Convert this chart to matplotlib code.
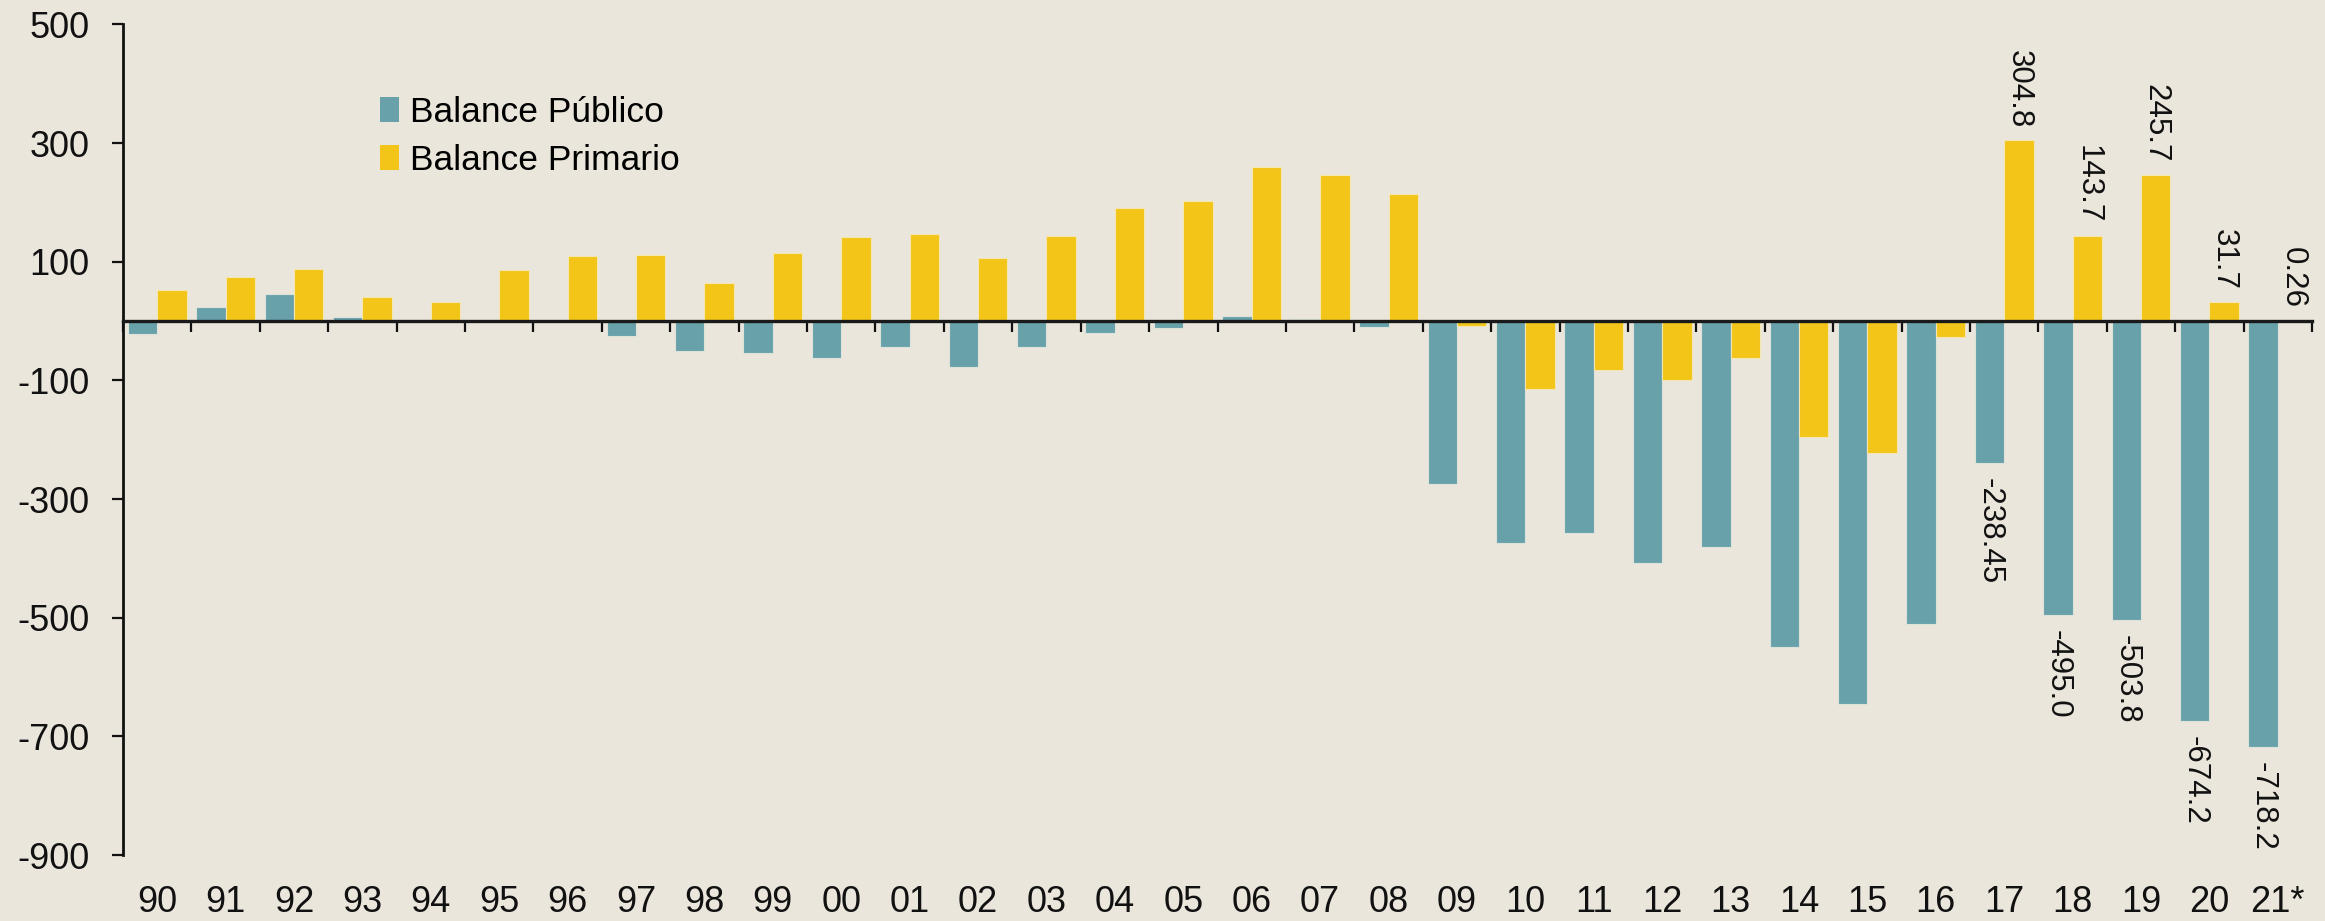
import matplotlib
matplotlib.use('Agg')
import matplotlib.pyplot as plt
import numpy as np
from matplotlib.patches import Patch

# ---- data ----
years = ['90', '91', '92', '93', '94', '95', '96', '97', '98', '99',
         '00', '01', '02', '03', '04', '05', '06', '07', '08', '09',
         '10', '11', '12', '13', '14', '15', '16', '17', '18', '19',
         '20', '21*']
balance_publico = [-21, 24, 46, 7, 2, 1, 1, -25, -50, -54,
                   -63, -43, -78, -44, -20, -12, 8, 3, -10, -275,
                   -374, -358, -408, -380, -550, -646, -510, -238.45, -495.0, -503.8,
                   -674.2, -718.2]
balance_primario = [52, 75, 88, 41, 33, 86, 110, 112, 65, 115,
                    142, 147, 106, 143, 190, 202, 259, 246, 215, -8,
                    -115, -83, -100, -62, -195, -222, -27, 304.8, 143.7, 245.7,
                    31.7, 0.26]
labeled_from = 27  # data labels shown for 17..21*
labels_publico = ['-238.45', '-495.0', '-503.8', '-674.2', '-718.2']
labels_primario = ['304.8', '143.7', '245.7', '31.7', '0.26']
series_names = ['Balance Público', 'Balance Primario']

# ---- style ----
BG = '#EAE6DC'
TEAL = '#68A1AA'
YELLOW = '#F2C518'
REG = ['Liberation Sans', 'DejaVu Sans']

W, H = 2325, 921
fig = plt.figure(figsize=(W / 100, H / 100), dpi=100, facecolor=BG)
left, right = 123 / W, 2312 / W
bottom, top = (H - 855) / H, (H - 24.5) / H
ax = fig.add_axes([left, bottom, right - left, top - bottom])
ax.set_facecolor(BG)

n = len(years)
x = np.arange(n)
bw = 0.43
ax.bar(x - bw / 2, balance_publico, width=bw, color=TEAL,
       edgecolor='#DDE3DA', linewidth=0.8, zorder=2)
ax.bar(x + bw / 2, balance_primario, width=bw, color=YELLOW,
       edgecolor='#F3E6B0', linewidth=0.8, zorder=2)

ax.set_xlim(-0.5, n - 0.5)
ax.set_ylim(-900, 500)
ax.set_yticks(np.arange(-900, 501, 200))
ax.set_yticklabels([str(v) for v in range(-900, 501, 200)], family=REG, fontsize=26)
ax.tick_params(axis='y', length=8, width=1.6, pad=16, colors='#111111')

# x axis at zero with ticks at category boundaries, labels at bottom
for s in ['top', 'right']:
    ax.spines[s].set_visible(False)
ax.spines['bottom'].set_position(('data', 0))
ax.spines['bottom'].set_linewidth(2.4)
ax.spines['bottom'].set_color('#1a1a1a')
ax.spines['bottom'].set_zorder(3)
ax.spines['left'].set_linewidth(2.0)
ax.spines['left'].set_color('#111111')
ax.set_xticks(np.arange(0, n + 1) - 0.5)
ax.set_xticklabels([])
ax.tick_params(axis='x', length=8, width=1.6, direction='out', colors='#111111')

for i, yl in enumerate(years):
    ax.annotate(yl, xy=(i, -900), xycoords='data', xytext=(0, -34),
                textcoords='offset points', ha='center', va='center',
                family=REG, fontsize=26, color='#111111', annotation_clip=False)

# data labels
for k, i in enumerate(range(labeled_from, n)):
    ax.annotate(labels_primario[k], xy=(i + bw / 2, balance_primario[i]),
                xytext=(0, 9), textcoords='offset points', rotation=270,
                ha='center', va='bottom', family=REG, fontsize=22.5, color='#111111')
    ax.annotate(labels_publico[k], xy=(i - bw / 2, balance_publico[i]),
                xytext=(0, -11), textcoords='offset points', rotation=270,
                ha='center', va='top', family=REG, fontsize=22.5, color='#111111')

handles = [Patch(facecolor=TEAL, edgecolor='none'), Patch(facecolor=YELLOW, edgecolor='none')]
leg = fig.legend(handles, series_names, loc='upper left',
                 bbox_to_anchor=(348 / W, 1 - 64 / H), frameon=False,
                 handlelength=0.55, handleheight=0.7, handletextpad=0.3,
                 labelspacing=0.42, prop={'family': REG, 'size': 25.5})

fig.savefig('out.png', dpi=100, facecolor=BG)
